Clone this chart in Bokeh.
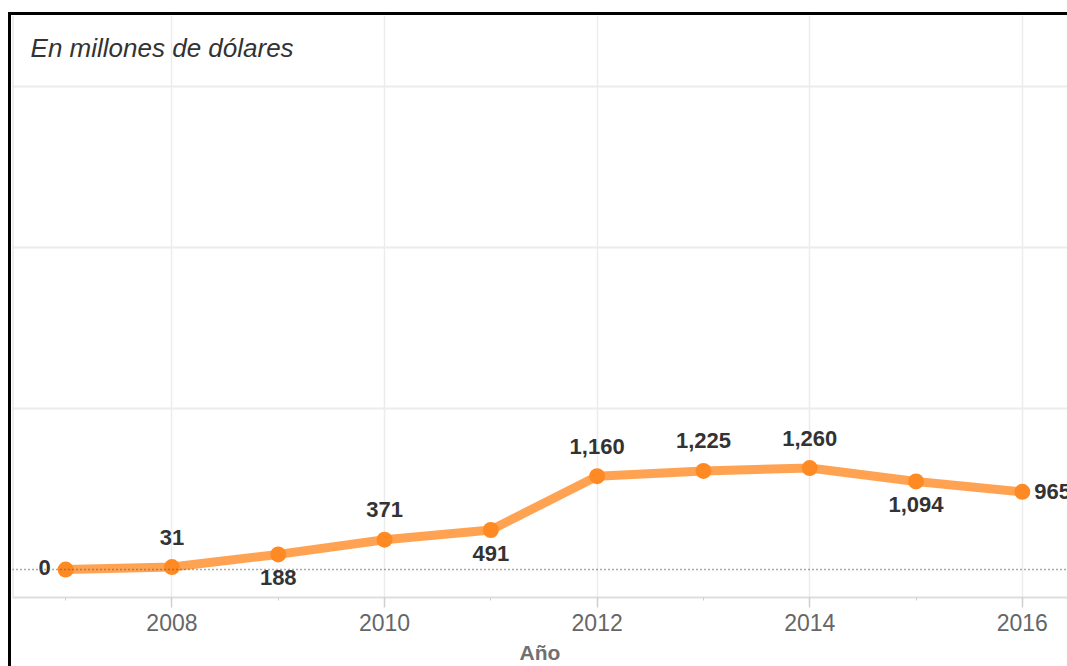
from bokeh.plotting import figure
from bokeh.models import ColumnDataSource, Range1d, FixedTicker, Span, Label
from bokeh.core.properties import value
from bokeh.embed import file_html
from bokeh.resources import INLINE

# ---- data ----
years = [2007, 2008, 2009, 2010, 2011, 2012, 2013, 2014, 2015, 2016]
amounts = [0, 31, 188, 371, 491, 1160, 1225, 1260, 1094, 965]
x_ticks = [2008, 2010, 2012, 2014, 2016]
title_text = "En millones de dólares"
x_label = "Año"

# label placement (style)
placement = {2007: "left", 2008: "above", 2009: "below", 2010: "above", 2011: "below",
             2012: "above", 2013: "above", 2014: "above", 2015: "below", 2016: "right"}

p = figure(width=1056, height=651, output_backend="svg", toolbar_location=None,
           x_range=Range1d(2006.5, 2016.425), y_range=Range1d(-347, 6880),
           min_border_left=1, min_border_right=0, min_border_top=0, min_border_bottom=68)
p.background_fill_color = "white"
p.border_fill_color = "white"
p.outline_line_color = None
p.margin = (15, 0, 0, 11)
p.styles = {"box-shadow": "0 -3px 0 0 black, -3px 0 0 0 black, -3px -3px 0 0 black"}

# axes
p.yaxis.visible = False
xa = p.xaxis[0]
xa.ticker = FixedTicker(ticks=x_ticks, minor_ticks=years)
xa.axis_line_color = "#dedede"
xa.axis_line_width = 2
xa.major_tick_line_color = "#d0d0d0"
xa.major_tick_line_width = 1.5
xa.major_tick_in = 0
xa.major_tick_out = 10
xa.minor_tick_line_color = "#cfcfcf"
xa.minor_tick_in = 0
xa.minor_tick_out = 3
xa.major_label_standoff = 6
xa.major_label_text_font = "Liberation Sans"
xa.major_label_text_font_size = "23px"
xa.major_label_text_color = "#666666"
xa.axis_label = x_label
xa.axis_label_text_font = "Liberation Sans"
xa.axis_label_text_font_size = "21px"
xa.axis_label_text_font_style = "bold"
xa.axis_label_text_color = "#707070"
xa.axis_label_standoff = 7

# grid
p.xgrid.ticker = FixedTicker(ticks=x_ticks)
p.xgrid.grid_line_color = "#ececec"
p.xgrid.grid_line_width = 1.5
p.ygrid.ticker = FixedTicker(ticks=[2000, 4000, 6000])
p.ygrid.grid_line_color = "#ececec"
p.ygrid.grid_line_width = 2

# frame left line
p.add_layout(Span(location=2006.5, dimension="height", line_color="#dcdcdc", line_width=2))
# zero line
p.add_layout(Span(location=0, dimension="width", line_color="#555555",
                  line_width=1.5, line_dash="1 3"))

src = ColumnDataSource(dict(x=years, y=amounts))
p.line("x", "y", source=src, line_color="#ff8c28", line_alpha=0.8, line_width=9)
p.scatter("x", "y", source=src, size=16, fill_color="#ff8a24", line_color=None)

offsets = {"above": (0, -30, "center"), "below": (0, 23, "center"),
           "left": (-15, -2, "right"), "right": (12, 0, "left")}
for pos, (dx, dy, al) in offsets.items():
    idx = [i for i, yv in enumerate(years) if placement[yv] == pos]
    s = ColumnDataSource(dict(x=[years[i] for i in idx], y=[amounts[i] for i in idx],
                              lab=[f"{amounts[i]:,}" for i in idx]))
    p.text("x", "y", text="lab", source=s, x_offset=dx, y_offset=dy,
           text_align=al, text_baseline="middle",
           text_font=value("Liberation Sans"), text_font_style="bold",
           text_font_size="22px", text_color="#333333")

p.add_layout(Label(x=2006.67, y=6480, text=title_text, text_baseline="alphabetic",
                   text_font="Liberation Sans", text_font_style="italic",
                   text_font_size="26px", text_color="#333333"))

open("out.html", "w").write(file_html(p, INLINE))
